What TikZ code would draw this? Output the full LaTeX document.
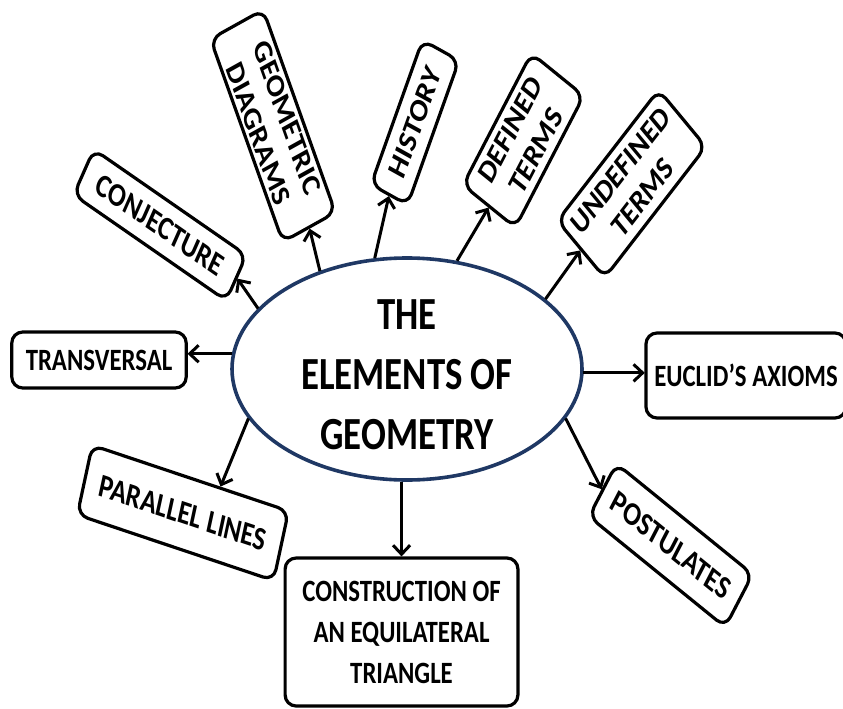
\documentclass[tikz,border=0pt]{standalone}
\usepackage{fontspec}
\setmainfont{Carlito}
\usetikzlibrary{arrows.meta,shapes.geometric,calc}
\definecolor{navy}{RGB}{31,56,100}
\begin{document}
\begin{tikzpicture}[x=1pt,y=-1pt,
  box/.style={draw=black, line width=3.2pt, rounded corners=11pt, inner sep=0pt, align=center,
    font=\fontsize{31}{38}\selectfont\bfseries},
  rbox/.style={box, font=\fontsize{33}{39}\selectfont\bfseries},
  arr/.style={line width=3pt, -{Straight Barb[length=9pt,width=17pt,line width=3pt]}},
]
\useasboundingbox (0,0) rectangle (843,709);
\begin{scope}[xscale=0.8, transform shape]
\node[ellipse, draw=navy, line width=3.6pt, minimum width=437.5pt, minimum height=222pt, inner sep=0pt] (c) at (508.75,369) {};
\node[align=center, inner sep=0pt, font=\fontsize{46}{60}\selectfont\bfseries] (ct) at (508.75,375) {THE\\ELEMENTS OF\\GEOMETRY};

\node[box, minimum width=218pt, minimum height=56pt] (tr) at (123.75,360) {TRANSVERSAL};
\node[box, minimum width=250pt, minimum height=85pt] (eu) at (932.5,375.5) {EUCLID’S AXIOMS};
\node[box, minimum width=291pt, minimum height=148pt, font=\fontsize{31}{41}\selectfont\bfseries] (co) at (501.9,632) {CONSTRUCTION OF\\AN EQUILATERAL\\TRIANGLE};
\node[rbox, rotate=-15, minimum width=254pt, minimum height=72pt] (pl) at (228.65,512.9) {PARALLEL LINES};
\node[rbox, rotate=-33, minimum width=203pt, minimum height=63pt] (po) at (838.5,545.4) {POSTULATES};
\node[rbox, rotate=-29, minimum width=218pt, minimum height=52pt] (cj) at (200,225) {CONJECTURE};
\node[rbox, rotate=-66, minimum width=222pt, minimum height=72pt] (gd) at (341.2,125.8) {GEOMETRIC\\DIAGRAMS};
\node[rbox, rotate=66, minimum width=158pt, minimum height=50pt] (hi) at (518.8,122.5) {HISTORY};
\node[rbox, rotate=57, minimum width=157pt, minimum height=78pt] (de) at (654.2,140.4) {DEFINED\\TERMS};
\node[rbox, rotate=46, minimum width=182pt, minimum height=82pt] (ud) at (789.6,183.8) {UNDEFINED\\TERMS};

\draw[arr] (c.176) -- (c.176 -| tr.east);
\draw[arr] (c.-1) -- (c.-1 -| eu.west);
\draw[arr] (co.north |- c.south) -- (co.north);
\draw[arr] (c.194) -- ($(pl.north)!0.3!(pl.north east)$);
\draw[arr] (c.-14) -- (po.west);
\draw[arr] (c.162) -- (cj.east);
\draw[arr] (c.138) -- (gd.east);
\draw[arr] (c.110) -- (hi.west);
\draw[arr] (c.60) -- (de.west);
\draw[arr] (c.22) -- (ud.west);
\end{scope}
\end{tikzpicture}
\end{document}
